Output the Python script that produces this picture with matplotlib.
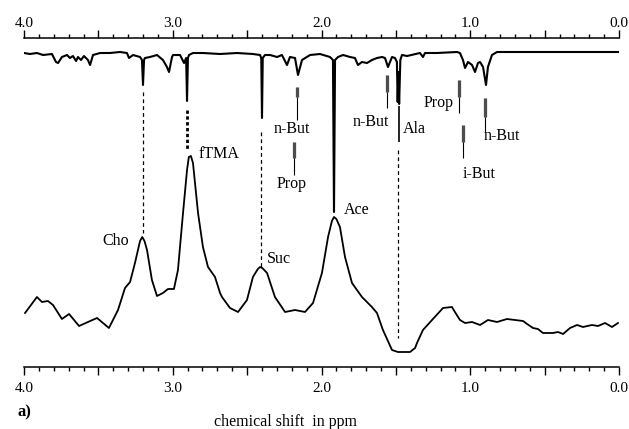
"""
Espectro 1H-NMR: traza superior invertida (alta resolución) y traza inferior
(baja resolución) con asignaciones de metabolitos.
"""
import matplotlib

matplotlib.use("Agg")
import matplotlib.pyplot as plt
from matplotlib.ticker import MultipleLocator, FuncFormatter

plt.rcParams["font.family"] = ["Liberation Serif", "DejaVu Serif"]

# traza inferior (ppm, intensidad)
low_ppm = [3.993, 3.913, 3.879, 3.839, 3.805, 3.745, 3.697, 3.630, 3.570, 3.509,
           3.429, 3.368, 3.321, 3.287, 3.254, 3.220, 3.205, 3.190, 3.173, 3.140,
           3.106, 3.066, 3.032, 2.992, 2.965, 2.931, 2.904, 2.892, 2.878, 2.864,
           2.830, 2.797, 2.763, 2.716, 2.682, 2.669, 2.615, 2.561, 2.501, 2.461,
           2.428, 2.413, 2.398, 2.366, 2.313, 2.245, 2.178, 2.111, 2.057, 1.997,
           1.956, 1.930, 1.916, 1.900, 1.876, 1.842, 1.795, 1.728, 1.661, 1.627,
           1.587, 1.526, 1.486, 1.405, 1.371, 1.358, 1.318, 1.257, 1.183, 1.123,
           1.103, 1.069, 1.035, 0.988, 0.934, 0.881, 0.820, 0.753, 0.645, 0.618,
           0.578, 0.545, 0.511, 0.444, 0.410, 0.376, 0.329, 0.282, 0.242, 0.182,
           0.141, 0.094, 0.047, 0.007]
low_int = [54, 70, 65, 66, 62, 48, 53, 41, 45, 49,
           39, 57, 79, 85, 104, 126, 130, 126, 117, 87,
           71, 74, 78, 78, 97, 154, 197, 210, 211, 204,
           154, 120, 100, 90, 74, 70, 59, 55, 67, 90,
           98, 100, 99, 94, 70, 55, 57, 55, 64, 94,
           130, 146, 150, 148, 140, 110, 84, 70, 60, 54,
           37, 17, 15, 15, 19, 24, 37, 47, 59, 60,
           55, 47, 44, 45, 42, 47, 45, 48, 46, 43,
           39, 38, 34, 34, 35, 33, 39, 42, 40, 42,
           41, 44, 40, 44]

# traza superior invertida (ppm, intensidad relativa a su línea base)
up_ppm = [4.000, 3.960, 3.913, 3.872, 3.812, 3.785, 3.771, 3.745, 3.711, 3.691,
          3.671, 3.650, 3.637, 3.617, 3.597, 3.570, 3.556, 3.536, 3.489, 3.422,
          3.355, 3.308, 3.294, 3.267, 3.220, 3.207, 3.200, 3.193, 3.187, 3.153,
          3.106, 3.066, 3.039, 3.025, 3.005, 2.998, 2.951, 2.924, 2.910, 2.904,
          2.898, 2.891, 2.864, 2.797, 2.682, 2.568, 2.461, 2.413, 2.405, 2.400,
          2.395, 2.380, 2.346, 2.299, 2.266, 2.232, 2.212, 2.178, 2.158, 2.131,
          2.077, 2.010, 1.943, 1.923, 1.916, 1.909, 1.889, 1.855, 1.808, 1.775,
          1.755, 1.728, 1.694, 1.661, 1.627, 1.593, 1.573, 1.553, 1.526, 1.506,
          1.493, 1.488, 1.483, 1.478, 1.470, 1.459, 1.425, 1.338, 1.318, 1.304,
          1.224, 1.089, 1.069, 1.049, 1.035, 1.015, 0.988, 0.968, 0.948, 0.934,
          0.914, 0.894, 0.881, 0.854, 0.820, 0.000]
up_int = [-1, -2, -1, -3, -2, -10, -11, -5, -3, -6,
          -4, -9, -5, -8, -4, -8, -13, -3, -1, -1,
          0, -1, -6, -3, -5, -8, -33, -8, -6, -5,
          -3, -8, -15, -20, -5, -3, -3, -11, -6, -49,
          -6, -3, -1, -1, -2, -1, -2, -3, -6, -66,
          -6, -3, -3, -5, -3, -13, -5, -6, -23, -8,
          -3, -2, -5, -8, -160, -8, -5, -3, -5, -6,
          -13, -10, -11, -8, -6, -5, -6, -15, -5, -6,
          -10, -50, -20, -52, -8, -3, -4, -1, -5, -1,
          -1, 0, -1, -8, -16, -10, -13, -20, -11, -10,
          -15, -33, -15, -3, 0, 0]

# marcadores de multipletes: ppm, tope y fondo de la barra, fin del tallo
mark_ppm = [2.165, 2.185, 1.560, 1.076, 0.901, 1.049]
mark_top = [280, 225, 292, 287, 269, 242]
mark_bot = [270, 209, 275, 270, 250, 225]
mark_end = [247, 192, 259, 254, 235, 209]

# líneas de asignación (ppm, desde, hasta)
ala_line = (1.479, 261, 225)
dash_ppm = [3.200, 2.904, 2.405, 1.486]
dash_from = [275, 257, 235, 217]
dash_to = [134, 217, 100, 29]
dash_lw = [0.9, 2.0, 0.9, 0.9]
dash_pat = [(3, 2.5), (1.2, 0.9), (3, 2.5), (3, 2.5)]

# etiquetas
lab_text = ["Cho", "fTMA", "Suc", "Ace", "n-But", "Prop", "n-But", "Ala",
            "Prop", "n-But", "i-But"]
lab_ppm = [3.382, 2.824, 2.366, 1.849, 2.198, 2.198, 1.667, 1.452,
           1.210, 0.787, 0.941]
lab_y = [126, 213, 108, 157, 238, 183, 245, 238, 264, 231, 193]
lab_ha = ["center", "left", "left", "left", "center", "center", "center",
          "left", "center", "center", "center"]

UP_BASE = 315

fig = plt.figure(figsize=(6.29, 4.29), dpi=100)
ax = fig.add_axes([24 / 629, 62 / 429, 595 / 629, 329 / 429])

ax.plot(low_ppm, low_int, color="black", lw=1.3)
ax.plot(up_ppm, [UP_BASE + v for v in up_int], color="black", lw=1.5)

for x, t, b, e in zip(mark_ppm, mark_top, mark_bot, mark_end):
    for dx in (-0.007, 0.0, 0.007):
        ax.vlines(x + dx, b, t, color="0.3", lw=0.9)
    ax.vlines(x, e, b, color="black", lw=0.8)
ax.vlines(ala_line[0], ala_line[2], ala_line[1], color="black", lw=1.2)

for x, y0, y1, lw, pat in zip(dash_ppm, dash_from, dash_to, dash_lw, dash_pat):
    ax.plot([x, x], [y0, y1], color="black", lw=lw, ls=(0, pat))

for s, x, y, ha in zip(lab_text, lab_ppm, lab_y, lab_ha):
    ax.text(x, y, s, ha=ha, va="center", fontsize=11.5)

ax.set_xlim(4.0, 0.0)
ax.set_ylim(0, 329)
for side in ("left", "right", "top"):
    ax.spines[side].set_visible(False)
ax.spines["bottom"].set_linewidth(1.1)
ax.set_yticks([])

fmt = FuncFormatter(lambda v, p: f"{v:.1f}" if abs(v - round(v)) < 1e-6 else "")
top = ax.secondary_xaxis("top")
top.spines["top"].set_linewidth(1.1)
for a in (ax.xaxis, top.xaxis):
    a.set_major_locator(MultipleLocator(0.5))
    a.set_minor_locator(MultipleLocator(0.1))
    a.set_major_formatter(fmt)
ax.tick_params(axis="x", which="both", direction="out", labelsize=11, width=1.0)
ax.tick_params(axis="x", which="major", length=5.8, pad=5)
ax.tick_params(axis="x", which="minor", length=3)
top.tick_params(axis="x", which="both", direction="out", labelsize=11, width=1.0)
top.tick_params(axis="x", which="major", length=5.8, pad=0)
top.tick_params(axis="x", which="minor", length=3)

fig.text(17 / 629, 1 - 412 / 429, "a)", fontsize=12, fontweight="bold",
         ha="left", va="center")
fig.text(286 / 629, 1 - 422 / 429, "chemical shift  in ppm", fontsize=11.5,
         ha="center", va="center")

fig.savefig("out.png", dpi=100)
